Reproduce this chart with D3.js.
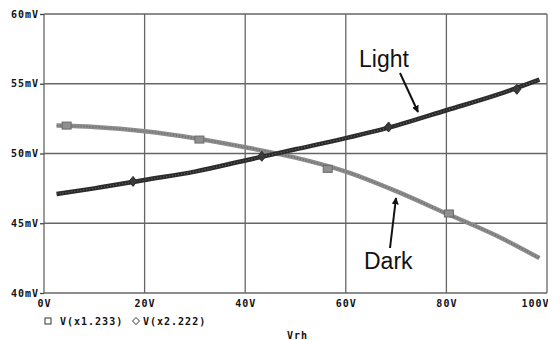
<!DOCTYPE html>
<html>
<head>
<meta charset="utf-8">
<script src="https://cdn.jsdelivr.net/npm/d3@7"></script>
<style>
  body { margin: 0; background: #fff; }
  .tick text, .lab { font-family: "DejaVu Sans Mono", monospace; font-weight: bold; font-size: 10px; letter-spacing: 1px; fill: #111; }
  .note { font-family: "Liberation Sans", Arial, sans-serif; font-size: 23px; fill: #111; }
</style>
</head>
<body>
<svg width="548" height="340"></svg>
<script>
// Vrh sweep (V) and the two node voltages (mV)
var vrh = [2.5, 10, 20, 30, 40, 50, 60, 70, 80, 90, 98.5];
var lightMv = [47.1, 47.5, 48.1, 48.7, 49.5, 50.3, 51.1, 52.0, 53.1, 54.2, 55.3];
var darkMv = [52.0, 51.9, 51.6, 51.1, 50.45, 49.7, 48.7, 47.3, 45.7, 44.1, 42.5];

// marker points
var darkMarkX = [4.5, 30.9, 56.4, 80.5];
var darkMarkY = [52.0, 51.0, 48.9, 45.7];
var lightMarkX = [17.7, 43.3, 68.5, 94];
var lightMarkY = [48.0, 49.8, 51.9, 54.6];

var xTicks = [0, 20, 40, 60, 80, 100];
var xTickLabels = ["0V", "20V", "40V", "60V", "80V", "100V"];
var yTicks = [40, 45, 50, 55, 60];
var yTickLabels = ["40mV", "45mV", "50mV", "55mV", "60mV"];
var legendNames = ["V(x1.233)", "V(x2.222)"];

var svg = d3.select("svg");
var pLeft = 44, pRight = 547, pTop = 14, pBottom = 293;

var x = d3.scaleLinear().domain([0, 100]).range([pLeft, pRight]);
var y = d3.scaleLinear().domain([40, 60]).range([pBottom, pTop]);

// grid
svg.append("g").selectAll("line").data(xTicks).enter().append("line")
  .attr("x1", d => x(d)).attr("x2", d => x(d))
  .attr("y1", pTop).attr("y2", pBottom)
  .attr("stroke", "#666").attr("stroke-width", 1.3);
svg.append("g").selectAll("line").data(yTicks).enter().append("line")
  .attr("x1", pLeft).attr("x2", pRight)
  .attr("y1", d => y(d)).attr("y2", d => y(d))
  .attr("stroke", "#666").attr("stroke-width", 1.3);

// axes
var xAxis = d3.axisBottom(x).tickValues(xTicks).tickSize(0).tickPadding(9)
  .tickFormat((d, i) => xTickLabels[i]);
var gx = svg.append("g").attr("transform", "translate(0," + pBottom + ")").call(xAxis);
gx.select(".domain").remove();
gx.selectAll(".tick text").attr("dy", "0.5em");
gx.selectAll(".tick text").filter(d => d === 100).attr("text-anchor", "end").attr("x", 2);

var yAxis = d3.axisLeft(y).tickValues(yTicks).tickSize(4).tickPadding(1)
  .tickFormat((d, i) => yTickLabels[i]);
var gy = svg.append("g").attr("transform", "translate(" + pLeft + ",0)").call(yAxis);
gy.select(".domain").remove();
gy.selectAll(".tick line").attr("stroke", "#444").attr("stroke-width", 1.3);

// curves
var line = d3.line().curve(d3.curveMonotoneX);
var darkPts = vrh.map((v, i) => [x(v), y(darkMv[i])]);
var lightPts = vrh.map((v, i) => [x(v), y(lightMv[i])]);

svg.append("path").attr("d", line(darkPts)).attr("fill", "none")
  .attr("stroke", "#8c8c8c").attr("stroke-width", 4.5);
svg.append("path").attr("d", line(darkPts)).attr("fill", "none")
  .attr("stroke", "#6a6a6a").attr("stroke-width", 1.5).attr("stroke-dasharray", "1 2");

svg.append("path").attr("d", line(lightPts)).attr("fill", "none")
  .attr("stroke", "#2b2b2b").attr("stroke-width", 4.5);
svg.append("path").attr("d", line(lightPts)).attr("fill", "none")
  .attr("stroke", "#666").attr("stroke-width", 1.2).attr("stroke-dasharray", "1 2");

// markers
svg.append("g").selectAll("rect").data(darkMarkX).enter().append("rect")
  .attr("x", d => x(d) - 4.5).attr("y", (d, i) => y(darkMarkY[i]) - 3.5)
  .attr("width", 9).attr("height", 7)
  .attr("fill", "#8f8f8f").attr("stroke", "#6a6a6a").attr("stroke-width", 1);
svg.append("g").selectAll("path").data(lightMarkX).enter().append("path")
  .attr("transform", (d, i) => "translate(" + x(d) + "," + y(lightMarkY[i]) + ")")
  .attr("d", "M0,-5L4,0L0,5L-4,0Z")
  .attr("fill", "#3a3a3a").attr("stroke", "#2b2b2b").attr("stroke-width", 1);

// annotations
var defs = svg.append("defs");
defs.append("marker").attr("id", "ah").attr("viewBox", "0 0 10 10")
  .attr("refX", 9).attr("refY", 5).attr("markerWidth", 7).attr("markerHeight", 7)
  .attr("orient", "auto").attr("markerUnits", "userSpaceOnUse")
  .append("path").attr("d", "M0,0L10,5L0,10Z").attr("fill", "#111");

svg.append("text").attr("class", "note").attr("x", 359).attr("y", 67).text("Light");
svg.append("line").attr("x1", 400).attr("y1", 73).attr("x2", 418).attr("y2", 112)
  .attr("stroke", "#111").attr("stroke-width", 2).attr("marker-end", "url(#ah)");

svg.append("text").attr("class", "note").attr("x", 364).attr("y", 269).text("Dark");
svg.append("line").attr("x1", 390).attr("y1", 248).attr("x2", 396).attr("y2", 198)
  .attr("stroke", "#111").attr("stroke-width", 2).attr("marker-end", "url(#ah)");

// legend
var lg = svg.append("g").attr("transform", "translate(0,321)");
lg.append("rect").attr("x", 45).attr("y", -3).attr("width", 6).attr("height", 6)
  .attr("fill", "none").attr("stroke", "#333").attr("stroke-width", 1);
lg.append("text").attr("class", "lab").attr("x", 60).attr("dy", "0.35em").text(legendNames[0]);
lg.append("path").attr("d", "M136,-3.5L139.5,0L136,3.5L132.5,0Z")
  .attr("fill", "none").attr("stroke", "#333").attr("stroke-width", 1);
lg.append("text").attr("class", "lab").attr("x", 143).attr("dy", "0.35em").text(legendNames[1]);

svg.append("text").attr("class", "lab").attr("x", 287).attr("y", 335).attr("dy", "0.35em").text("Vrh");
</script>
</body>
</html>
